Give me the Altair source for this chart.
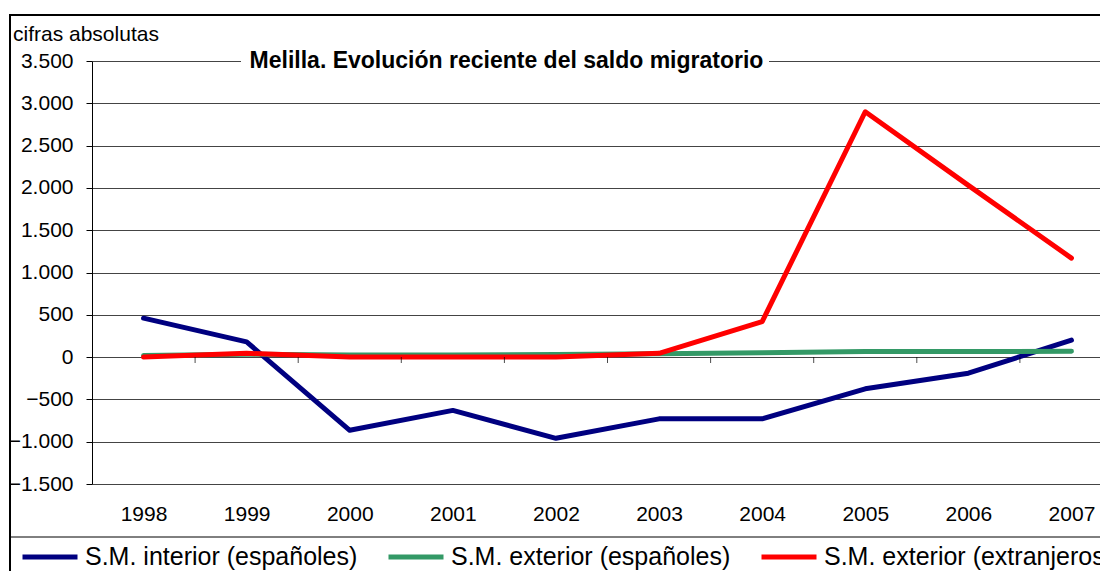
import altair as alt
import pandas as pd

# ---- data ----
years = [1998, 1999, 2000, 2001, 2002, 2003, 2004, 2005, 2006, 2007]
series_names = ["S.M. interior (españoles)", "S.M. exterior (españoles)", "S.M. exterior (extranjeros)"]
sm_interior_esp = [460, 180, -865, -630, -960, -730, -730, -375, -190, 200]
sm_exterior_esp = [20, 35, 25, 25, 30, 40, 50, 65, 65, 70]
sm_exterior_ext = [0, 45, 0, 0, 0, 45, 420, 2900, 2030, 1170]
colors = ["#000080", "#339966", "#FF0000"]
y_ticks = [-1500, -1000, -500, 0, 500, 1000, 1500, 2000, 2500, 3000, 3500]
title_text = "Melilla. Evolución reciente del saldo migratorio"
y_title = "cifras absolutas"

FONT = "Liberation Sans"
W, H = 1008, 423
PX_PER_YEAR = 103.1
x_domain = [1997.5, 1997.5 + W / PX_PER_YEAR]

rows = []
for name, vals in zip(series_names, [sm_interior_esp, sm_exterior_esp, sm_exterior_ext]):
    for yr, v in zip(years, vals):
        rows.append({"series": name, "year": yr, "value": v})
df = pd.DataFrame(rows)

tick_df = pd.DataFrame({"year": [y + 0.5 for y in years[:-1]], "value": [0] * (len(years) - 1)})
one = pd.DataFrame({"t": [title_text]})
one_y = pd.DataFrame({"t": [y_title]})

x_enc = alt.X(
    "year:Q",
    scale=alt.Scale(domain=x_domain, nice=False, zero=False),
    axis=alt.Axis(
        values=years, format="d", title=None, ticks=False, domain=False, grid=False,
        labelFontSize=21, labelPadding=19, labelFlush=False, labelOverlap=False,
        labelColor="black", labelFont=FONT,
    ),
)
y_enc = alt.Y(
    "value:Q",
    scale=alt.Scale(domain=[-1500, 3500], nice=False, zero=False),
    axis=alt.Axis(
        values=y_ticks, title=None, labelExpr="replace(datum.label, ',', '.')",
        labelFontSize=21, labelPadding=13, tickSize=6, tickColor="black",
        domainColor="black", gridColor="#444444", labelColor="black",
        labelFont=FONT, labelOverlap=False,
    ),
)

border_top = alt.Chart(one).mark_rule(color="black", strokeWidth=2).encode(
    x=alt.value(-83), x2=alt.value(1010), y=alt.value(-46)
)
border_left = alt.Chart(one).mark_rule(color="black", strokeWidth=2).encode(
    x=alt.value(-82), y=alt.value(-47), y2=alt.value(520)
)
legend_line = alt.Chart(one).mark_rule(color="black", strokeWidth=1).encode(
    x=alt.value(-82), x2=alt.value(1010), y=alt.value(476)
)

lines = alt.Chart(df).mark_line(strokeWidth=5, strokeCap="round", strokeJoin="round").encode(
    x=x_enc,
    y=y_enc,
    color=alt.Color(
        "series:N",
        scale=alt.Scale(domain=series_names, range=colors),
        legend=alt.Legend(
            title=None, orient="none", legendX=-72, legendY=466, direction="horizontal",
            symbolType="stroke", symbolSize=3025, symbolStrokeWidth=5,
            labelFontSize=25, labelFont=FONT, labelColor="black", labelLimit=600,
            columnPadding=20, labelOffset=5,
        ),
    ),
)

ticks = alt.Chart(tick_df).mark_tick(orient="vertical", size=6, thickness=1, color="black", yOffset=3).encode(
    x=x_enc, y=y_enc
)

title_bg = alt.Chart(one).mark_rect(color="white").encode(
    x=alt.value(149), x2=alt.value(677), y=alt.value(-11), y2=alt.value(11)
)
title = alt.Chart(one).mark_text(
    font=FONT, fontSize=23, fontWeight="bold", align="center", baseline="middle", color="black"
).encode(x=alt.value(414.5), y=alt.value(0), text="t:N")
ytitle = alt.Chart(one_y).mark_text(
    font=FONT, fontSize=21, align="left", baseline="alphabetic", color="black"
).encode(x=alt.value(-79), y=alt.value(-20), text="t:N")

chart = (
    alt.layer(border_top, border_left, legend_line, lines, ticks, title_bg, title, ytitle)
    .properties(
        width=W, height=H,
        padding={"left": 84, "top": 53, "right": 0, "bottom": 87},
        autosize=alt.AutoSizeParams(type="none"),
        background="white",
    )
    .configure_view(stroke=None)
)

chart.save("out.html", embed_options={"renderer": "svg", "actions": False})
